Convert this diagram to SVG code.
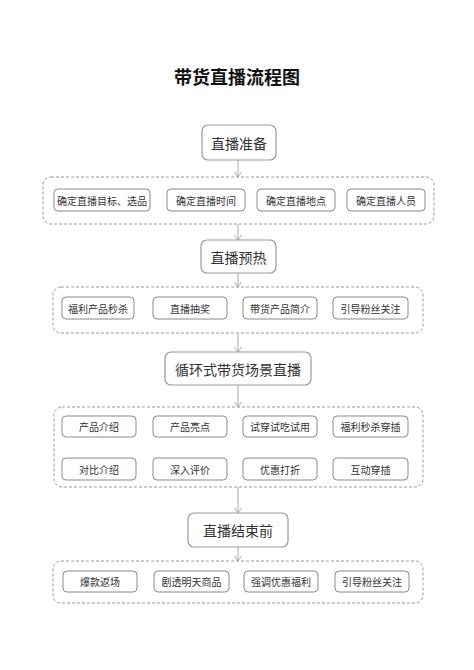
<svg xmlns="http://www.w3.org/2000/svg" width="474" height="670" viewBox="0 0 474 670">
<style>
text{font-family:"Noto Sans CJK SC","Noto Sans",sans-serif;fill:#333;text-anchor:middle;dominant-baseline:central}
.title{font-size:18px;font-weight:bold;fill:#111}
.main rect{fill:#fff;stroke:#999;stroke-width:1.2}
.main text{font-size:14px}
.grp{fill:none;stroke:#999;stroke-width:1;stroke-dasharray:3 2}
.sub rect{fill:#fff;stroke:#8a8a8a;stroke-width:1}
.sub text{font-size:10px}
.conn line{stroke:#aaa;stroke-width:1}
</style>
<defs>
<marker id="arr" markerWidth="10" markerHeight="10" refX="8" refY="5" orient="auto" markerUnits="userSpaceOnUse">
<path d="M3,1.5 L8,5 L3,8.5" fill="none" stroke="#aaa" stroke-width="1"/>
</marker>
</defs>
<rect width="474" height="670" fill="#fff"/>
<text class="title" x="237" y="76">带货直播流程图</text>

<g class="conn">
<line x1="238" y1="160" x2="238" y2="177" marker-end="url(#arr)"/>
<line x1="238" y1="224" x2="238" y2="240" marker-end="url(#arr)"/>
<line x1="238" y1="273" x2="238" y2="287" marker-end="url(#arr)"/>
<line x1="238" y1="333" x2="238" y2="352" marker-end="url(#arr)"/>
<line x1="238" y1="385" x2="238" y2="407" marker-end="url(#arr)"/>
<line x1="238" y1="487" x2="238" y2="513" marker-end="url(#arr)"/>
<line x1="238" y1="547" x2="238" y2="561" marker-end="url(#arr)"/>
</g>

<g id="prep" class="main"><rect x="202" y="125" width="74" height="35" rx="6"/><text x="239" y="143">直播准备</text></g>
<g id="group1"><rect class="grp" x="43" y="177" width="391" height="47" rx="8"/>
<g id="p1" class="sub"><rect x="54" y="189" width="96" height="22" rx="4"/><text x="102" y="200">确定直播目标、选品</text></g>
<g id="p2" class="sub"><rect x="167" y="189" width="78" height="22" rx="4"/><text x="206" y="200">确定直播时间</text></g>
<g id="p3" class="sub"><rect x="257" y="189" width="78" height="22" rx="4"/><text x="296" y="200">确定直播地点</text></g>
<g id="p4" class="sub"><rect x="347" y="189" width="78" height="22" rx="4"/><text x="386" y="200">确定直播人员</text></g>
</g>

<g id="warm" class="main"><rect x="201" y="240" width="75" height="33" rx="6"/><text x="238.5" y="257">直播预热</text></g>
<g id="group2"><rect class="grp" x="53" y="287" width="370" height="46" rx="8"/>
<g id="w1" class="sub"><rect x="62" y="297" width="72" height="22" rx="4"/><text x="98" y="308">福利产品秒杀</text></g>
<g id="w2" class="sub"><rect x="153" y="297" width="74" height="22" rx="4"/><text x="190" y="308">直播抽奖</text></g>
<g id="w3" class="sub"><rect x="243" y="297" width="74" height="22" rx="4"/><text x="280" y="308">带货产品简介</text></g>
<g id="w4" class="sub"><rect x="333" y="297" width="75" height="22" rx="4"/><text x="370.5" y="308">引导粉丝关注</text></g>
</g>

<g id="loop" class="main"><rect x="165" y="352" width="146" height="33" rx="6"/><text x="238" y="369">循环式带货场景直播</text></g>
<g id="group3"><rect class="grp" x="54" y="407" width="369" height="80" rx="8"/>
<g id="l1" class="sub"><rect x="62" y="416" width="74" height="21" rx="4"/><text x="99" y="426.5">产品介绍</text></g>
<g id="l2" class="sub"><rect x="153" y="416" width="74" height="21" rx="4"/><text x="190" y="426.5">产品亮点</text></g>
<g id="l3" class="sub"><rect x="243" y="416" width="74" height="21" rx="4"/><text x="280" y="426.5">试穿试吃试用</text></g>
<g id="l4" class="sub"><rect x="333" y="416" width="75" height="21" rx="4"/><text x="370.5" y="426.5">福利秒杀穿插</text></g>
<g id="l5" class="sub"><rect x="62" y="458" width="74" height="22" rx="4"/><text x="99" y="469">对比介绍</text></g>
<g id="l6" class="sub"><rect x="153" y="458" width="74" height="22" rx="4"/><text x="190" y="469">深入评价</text></g>
<g id="l7" class="sub"><rect x="243" y="458" width="74" height="22" rx="4"/><text x="280" y="469">优惠打折</text></g>
<g id="l8" class="sub"><rect x="333" y="458" width="75" height="22" rx="4"/><text x="370.5" y="469">互动穿插</text></g>
</g>

<g id="end" class="main"><rect x="188" y="513" width="100" height="34" rx="6"/><text x="238" y="530">直播结束前</text></g>
<g id="group4"><rect class="grp" x="53" y="561" width="370" height="42" rx="8"/>
<g id="e1" class="sub"><rect x="63" y="571" width="74" height="21" rx="4"/><text x="100" y="581.5">爆款返场</text></g>
<g id="e2" class="sub"><rect x="154" y="571" width="75" height="21" rx="4"/><text x="191.5" y="581.5">剧透明天商品</text></g>
<g id="e3" class="sub"><rect x="244" y="571" width="74" height="21" rx="4"/><text x="281" y="581.5">强调优惠福利</text></g>
<g id="e4" class="sub"><rect x="335" y="571" width="74" height="21" rx="4"/><text x="372" y="581.5">引导粉丝关注</text></g>
</g>
</svg>
